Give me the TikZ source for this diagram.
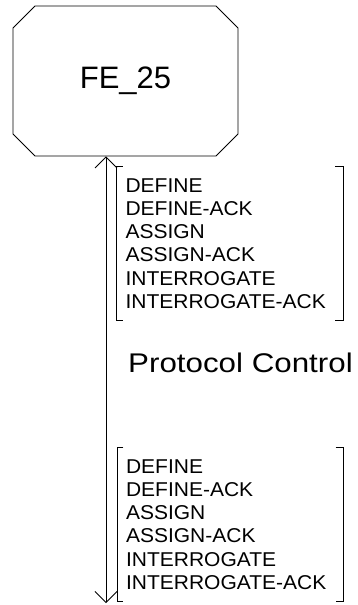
\documentclass[tikz,border=0pt]{standalone}
\usepackage{fontspec}
\setmainfont{Liberation Sans}
\newfontfamily\listfont[FakeStretch=1.05]{Liberation Sans}
\newfontfamily\ctrlfont[FakeStretch=1.16]{Liberation Sans}
\usetikzlibrary{arrows.meta,shapes.misc,positioning}

\begin{document}
\begin{tikzpicture}[x=1pt,y=-1pt]
\tikzset{
  fenode/.style={chamfered rectangle,chamfered rectangle xsep=11pt,chamfered rectangle ysep=11pt,draw,line width=0.8pt,minimum width=225pt,minimum height=150pt,inner sep=0pt,font=\fontsize{31}{37}\selectfont},
  msglist/.style={rectangle,minimum height=153pt,text width=209pt,inner xsep=8.5pt,inner ysep=0pt,align=left,font=\listfont\fontsize{20}{23.3}\selectfont},
  bracket/.style={line width=0.8pt},
  flow/.style={{Straight Barb[length=11pt,width=22pt]}-{Straight Barb[length=11pt,width=22pt]},line width=0.8pt}
}
\useasboundingbox (0,0) rectangle (357,605);
\node[fenode] (n_fe) at (125.5,81) {FE\_25};
\coordinate (n_end) at (106,603);
\node[msglist] (n_listup) at (230,243.5) {DEFINE\\DEFINE-ACK\\ASSIGN\\ASSIGN-ACK\\INTERROGATE\\INTERROGATE-ACK};
\node[msglist] (n_listdown) at (230.5,524.5) {DEFINE\\DEFINE-ACK\\ASSIGN\\ASSIGN-ACK\\INTERROGATE\\INTERROGATE-ACK};
\node[anchor=west,inner sep=0pt,font=\ctrlfont\fontsize{27}{32}\selectfont] (n_ctrl) at (128,363) {Protocol Control};
\draw[flow] (n_end) -- (n_fe.south -| n_end);
% brackets round the message lists
\foreach \l in {n_listup,n_listdown} {
  \draw[bracket] ([xshift=6pt]\l.north west) -- (\l.north west) -- (\l.south west) -- ([xshift=6pt]\l.south west);
  \draw[bracket] ([xshift=-8pt]\l.north east) -- (\l.north east) -- (\l.south east) -- ([xshift=-8pt]\l.south east);
}
\end{tikzpicture}
\end{document}
